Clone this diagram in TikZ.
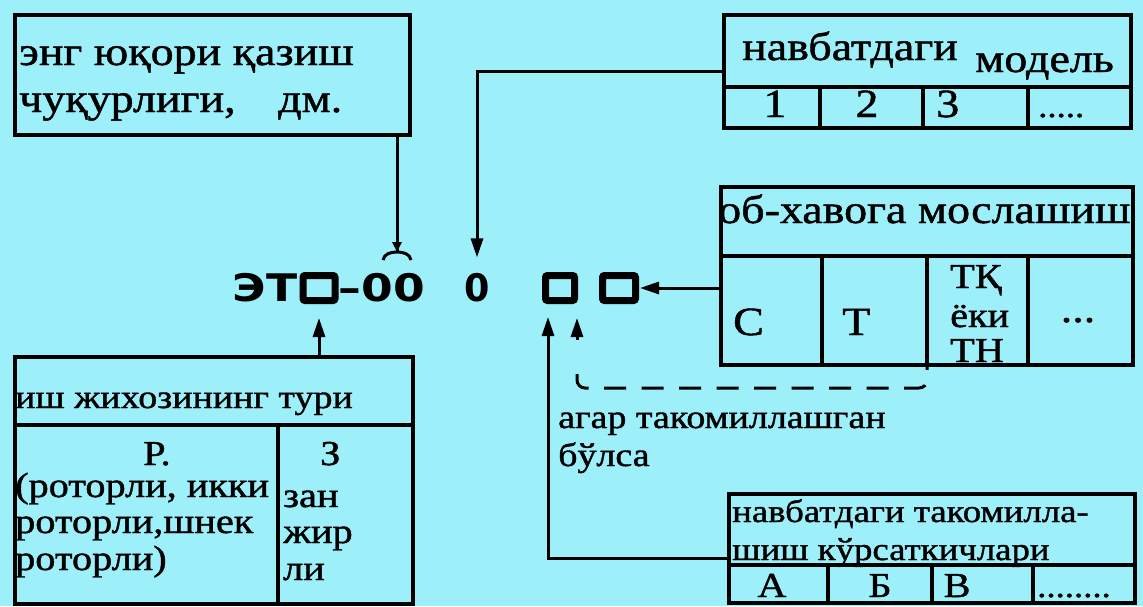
\documentclass[tikz,border=0pt]{standalone}
\usepackage{fontspec}
\setmainfont{Liberation Serif}[FakeStretch=1.15, FakeBold=1.2]
\newfontfamily\codefont{DejaVu Sans}[FakeStretch=1.2]
\usetikzlibrary{arrows.meta}
\definecolor{bgc}{RGB}{157,239,250}
\tikzset{
  box/.style={draw, line width=3.5pt, inner sep=0pt, anchor=north west},
  cell/.style={line width=3.5pt},
  conn/.style={line width=3pt},
  arr/.style={-{Triangle[length=19pt,width=12pt]}},
  sq/.style={draw, line width=7pt, rounded corners=2pt, minimum height=25pt, inner sep=0pt},
  code/.style={font=\codefont\bfseries\fontsize{38}{40}\selectfont, inner sep=0pt},
  tb/.style={anchor=base west, inner sep=0pt},
  tc/.style={anchor=base, inner sep=0pt},
  fA/.style={font=\fontsize{40}{44}\selectfont},
  fB/.style={font=\fontsize{35}{40}\selectfont},
  fC/.style={font=\fontsize{32}{36}\selectfont},
  fD/.style={font=\fontsize{33}{36}\selectfont},
}
\begin{document}
\begin{tikzpicture}[x=1pt,y=-1pt]
\useasboundingbox (0,0) rectangle (1143,606);
\fill[bgc] (0,0) rectangle (1143,606);

% ---------- boxes ----------
\node[box, minimum width=395pt, minimum height=120pt] (b1) at (13,13) {};
\node[box, minimum width=407pt, minimum height=113pt] (b2) at (722,13) {};
\node[box, minimum width=412pt, minimum height=178pt] (b3) at (719,185) {};
\node[box, minimum width=398pt, minimum height=247pt] (b4) at (13,355) {};
\node[box, minimum width=406pt, minimum height=109pt] (b5) at (727,492) {};

% internal cell lines
\draw[cell] (722,87) -- (1129,87);
\draw[cell] (820,87) -- (820,126) (923,87) -- (923,126) (1028,87) -- (1028,126);
\draw[cell] (719,256) -- (1131,256);
\draw[cell] (822,256) -- (822,363) (927,256) -- (927,363) (1028,256) -- (1028,363);
\draw[cell] (13,425) -- (411,425);
\draw[cell] (278,425) -- (278,602);
\draw[cell] (727,565) -- (1133,565);
\draw[cell] (828,565) -- (828,601) (932,565) -- (932,601) (1033,565) -- (1033,601);

% ---------- texts ----------
\node[tb, fA] (t1a) at (19,65) {энг юқори қазиш};
\node[tb, fA] (t1b) at (19,112) {чуқурлиги,};
\node[tb, fA] (t1c) at (278,112) {дм.};

\node[tb, fA] (t2a) at (742,60) {навбатдаги};
\node[tb, fA] (t2b) at (975,72) {модель};
\node[tc, fA] (n1) at (775,117) {1};
\node[tc, fA] (n2) at (867,117) {2};
\node[tb, fA] (n3) at (936,117) {3};
\node[tb, fC] (n4) at (1038,117) {.....};

\node[tb, fA] (t3a) at (718,223) {об-хавога мослашиш};
\node[tb, fA] (c1) at (733,335) {С};
\node[tb, fA] (c2) at (842,335) {Т};
\node[tb, fB] (c3a) at (950,288) {ТҚ};
\node[tb, fB] (c3b) at (950,327) {ёки};
\node[tb, fB] (c3c) at (950,362) {ТН};
\node[tc, fA] (c4) at (1078,322) {...};

\node[tb, fD] (t4a) at (15,408) {иш жихозининг тури};
\node[tb, fB] (t4b) at (143,465) {Р.};
\node[tb, fB] (t4c) at (15,497) {(роторли, икки};
\node[tb, fB] (t4d) at (15,533) {роторли,шнек};
\node[tb, fB] (t4e) at (15,570) {роторли)};
\node[tb, fB] (t4f) at (320,465) {З};
\node[tb, fB] (t4g) at (283,507) {зан};
\node[tb, fB] (t4h) at (283,543) {жир};
\node[tb, fB] (t4i) at (283,580) {ли};

\node[tb, fC] (t5a) at (732,522) {навбатдаги такомилла-};
\node[tb, fC] (t5b) at (732,560) {шиш кўрсаткичлари};
\node[tc, fB] (t5c) at (772,597) {А};
\node[tc, fB] (t5d) at (880,597) {Б};
\node[tc, fB] (t5e) at (957,597) {В};
\node[tb, fC] (t5f) at (1037,597) {........};

\node[tb, fD] (lab1) at (558,428) {агар такомиллашган};
\node[tb, fD] (lab2) at (558,466) {бўлса};

% ---------- code line ----------
\node[sq, minimum width=32pt] (sq1) at (319,288) {};
\node[sq, minimum width=29pt] (sq2) at (560,288) {};
\node[sq, minimum width=33pt] (sq3) at (619,288) {};
\node[code, anchor=east] (et) at ([xshift=-2pt]sq1.west) {ЭТ};
\node[code, anchor=west] (dz) at ([xshift=0pt]sq1.east) {–00};
\node[code, xscale=0.8] (zero) at (477,288) {0};

% ---------- connectors ----------
\coordinate (br) at (397,252);
\draw[conn] (b1.south -| br) -- (br);
\draw[conn] (383,260) to[out=80,in=180] (br) to[out=0,in=100] (411,260);
\draw[conn, -{Triangle[length=10pt,width=9pt]}] ([yshift=14pt]br) -- (br);

\draw[conn, arr, shorten >=16pt] (b2.west) -| (zero.north);
\draw[conn, arr, shorten >=1pt] (b3.west |- sq3.east) -- (sq3.east);
\draw[conn, arr, shorten >=14pt] (sq1.south |- b4.north) -- (sq1.south);
\draw[conn, arr, shorten >=13pt] ([yshift=-10pt]b5.west) -| ([xshift=-12pt]sq2.south);

\coordinate (tk) at (927,363);
\coordinate (dl) at (577,374);
\draw[conn, dash pattern=on 22pt off 15.5pt] (dl) -- (577,380) to[out=-90,in=180] (585,388) -- (919,388) to[out=0,in=-90] (927,380) -- (tk);
\draw[conn, arr] ([xshift=17pt,yshift=-36pt]sq2.south) -- ([xshift=17pt,yshift=-14pt]sq2.south);
\end{tikzpicture}
\end{document}
